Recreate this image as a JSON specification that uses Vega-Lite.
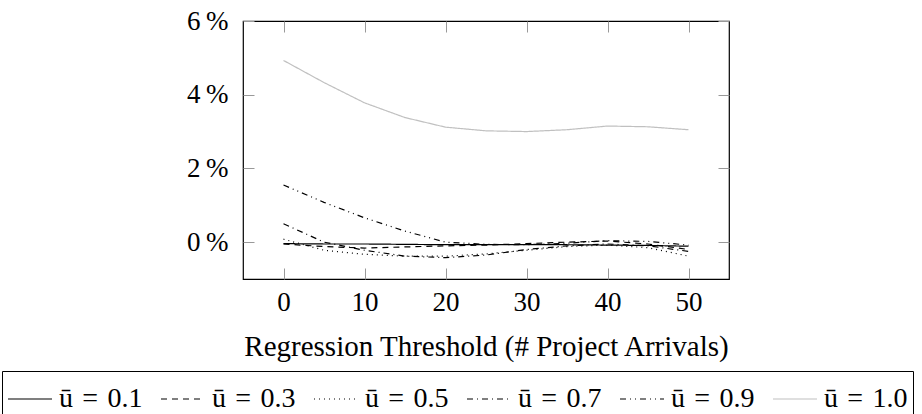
{
  "$schema": "https://vega.github.io/schema/vega-lite/v6.json",
  "width": 486,
  "height": 258,
  "autosize": {"type": "none"},
  "padding": {"left": 243, "top": 21, "right": 193, "bottom": 135},
  "background": "white",
  "config": {
    "view": {"stroke": "black", "strokeWidth": 1.2},
    "font": "Liberation Serif, serif",
    "axis": {
      "labelFont": "Liberation Serif, serif",
      "labelFontSize": 27,
      "labelColor": "black",
      "titleFont": "Liberation Serif, serif",
      "titleFontSize": 29,
      "titleFontWeight": "normal",
      "titleColor": "black",
      "grid": false,
      "domain": false,
      "tickColor": "#999999",
      "tickSize": -11,
      "tickWidth": 1
    },
    "legend": {
      "labelFont": "Liberation Serif, serif",
      "labelFontSize": 28,
      "labelColor": "black"
    }
  },
  "data": {
    "values": [
      {"u": "ū = 0.1", "x": 0, "y": -0.04}, {"u": "ū = 0.1", "x": 5, "y": -0.05}, {"u": "ū = 0.1", "x": 10, "y": -0.05}, {"u": "ū = 0.1", "x": 15, "y": -0.06}, {"u": "ū = 0.1", "x": 20, "y": -0.07}, {"u": "ū = 0.1", "x": 25, "y": -0.07}, {"u": "ū = 0.1", "x": 30, "y": -0.07}, {"u": "ū = 0.1", "x": 35, "y": -0.07}, {"u": "ū = 0.1", "x": 40, "y": -0.08}, {"u": "ū = 0.1", "x": 45, "y": -0.09}, {"u": "ū = 0.1", "x": 50, "y": -0.11},
      {"u": "ū = 0.3", "x": 0, "y": -0.05}, {"u": "ū = 0.3", "x": 5, "y": -0.12}, {"u": "ū = 0.3", "x": 10, "y": -0.16}, {"u": "ū = 0.3", "x": 15, "y": -0.13}, {"u": "ū = 0.3", "x": 20, "y": -0.1}, {"u": "ū = 0.3", "x": 25, "y": -0.08}, {"u": "ū = 0.3", "x": 30, "y": -0.04}, {"u": "ū = 0.3", "x": 35, "y": 0.0}, {"u": "ū = 0.3", "x": 40, "y": 0.03}, {"u": "ū = 0.3", "x": 45, "y": -0.05}, {"u": "ū = 0.3", "x": 50, "y": -0.2},
      {"u": "ū = 0.5", "x": 0, "y": 0.08}, {"u": "ū = 0.5", "x": 5, "y": -0.22}, {"u": "ū = 0.5", "x": 10, "y": -0.33}, {"u": "ū = 0.5", "x": 15, "y": -0.38}, {"u": "ū = 0.5", "x": 20, "y": -0.38}, {"u": "ū = 0.5", "x": 25, "y": -0.32}, {"u": "ū = 0.5", "x": 30, "y": -0.22}, {"u": "ū = 0.5", "x": 35, "y": -0.12}, {"u": "ū = 0.5", "x": 40, "y": -0.08}, {"u": "ū = 0.5", "x": 45, "y": -0.15}, {"u": "ū = 0.5", "x": 50, "y": -0.38},
      {"u": "ū = 0.7", "x": 0, "y": 0.5}, {"u": "ū = 0.7", "x": 5, "y": 0.0}, {"u": "ū = 0.7", "x": 10, "y": -0.22}, {"u": "ū = 0.7", "x": 15, "y": -0.38}, {"u": "ū = 0.7", "x": 20, "y": -0.42}, {"u": "ū = 0.7", "x": 25, "y": -0.35}, {"u": "ū = 0.7", "x": 30, "y": -0.2}, {"u": "ū = 0.7", "x": 35, "y": -0.1}, {"u": "ū = 0.7", "x": 40, "y": -0.05}, {"u": "ū = 0.7", "x": 45, "y": -0.1}, {"u": "ū = 0.7", "x": 50, "y": -0.25},
      {"u": "ū = 0.9", "x": 0, "y": 1.55}, {"u": "ū = 0.9", "x": 5, "y": 1.08}, {"u": "ū = 0.9", "x": 10, "y": 0.66}, {"u": "ū = 0.9", "x": 15, "y": 0.3}, {"u": "ū = 0.9", "x": 20, "y": 0.0}, {"u": "ū = 0.9", "x": 25, "y": -0.06}, {"u": "ū = 0.9", "x": 30, "y": -0.07}, {"u": "ū = 0.9", "x": 35, "y": -0.03}, {"u": "ū = 0.9", "x": 40, "y": 0.04}, {"u": "ū = 0.9", "x": 45, "y": 0.02}, {"u": "ū = 0.9", "x": 50, "y": -0.08},
      {"u": "ū = 1.0", "x": 0, "y": 4.93}, {"u": "ū = 1.0", "x": 5, "y": 4.33}, {"u": "ū = 1.0", "x": 10, "y": 3.78}, {"u": "ū = 1.0", "x": 15, "y": 3.38}, {"u": "ū = 1.0", "x": 20, "y": 3.12}, {"u": "ū = 1.0", "x": 25, "y": 3.02}, {"u": "ū = 1.0", "x": 30, "y": 3.0}, {"u": "ū = 1.0", "x": 35, "y": 3.05}, {"u": "ū = 1.0", "x": 40, "y": 3.15}, {"u": "ū = 1.0", "x": 45, "y": 3.13}, {"u": "ū = 1.0", "x": 50, "y": 3.05}
    ]
  },
  "layer": [
    {
      "mark": {"type": "line", "clip": true},
      "encoding": {
        "x": {
          "field": "x", "type": "quantitative",
          "scale": {"domain": [-5, 55], "nice": false, "zero": false},
          "axis": {"values": [0, 10, 20, 30, 40, 50], "labelPadding": 21, "title": "Regression Threshold (# Project Arrivals)", "titlePadding": 17}
        },
        "y": {
          "field": "y", "type": "quantitative",
          "scale": {"domain": [-1, 6], "nice": false, "zero": false},
          "axis": {"values": [0, 2, 4, 6], "labelExpr": "datum.value + '\u2009%'", "labelPadding": 26, "title": null}
        },
        "color": {
          "field": "u", "type": "nominal",
          "scale": {"domain": ["ū = 0.1", "ū = 0.3", "ū = 0.5", "ū = 0.7", "ū = 0.9", "ū = 1.0"], "range": ["black", "black", "black", "black", "black", "#c0c0c0"]},
          "legend": {
            "title": null,
            "orient": "none",
            "legendX": -241,
            "legendY": 350,
            "direction": "horizontal",
            "columns": 6,
            "columnPadding": 15,
            "symbolType": "stroke",
            "symbolSize": 1936,
            "labelOffset": 6,
            "labelExpr": "replace(datum.label, / /g, '\u2004')",
            "strokeColor": "black",
            "fillColor": "white",
            "padding": 5
          }
        },
        "strokeDash": {
          "field": "u", "type": "nominal",
          "scale": {"domain": ["ū = 0.1", "ū = 0.3", "ū = 0.5", "ū = 0.7", "ū = 0.9", "ū = 1.0"], "range": [[1, 0], [6, 5], [1, 4], [6, 4, 1, 4], [6, 4, 1, 4, 1, 4], [1, 0]]}
        },
        "strokeWidth": {
          "field": "u", "type": "ordinal",
          "scale": {"domain": ["ū = 0.1", "ū = 0.3", "ū = 0.5", "ū = 0.7", "ū = 0.9", "ū = 1.0"], "range": [1.2, 1.2, 1.2, 1.2, 1.2, 2]}
        }
      }
    },
    {
      "mark": {"type": "line", "opacity": 0},
      "encoding": {
        "x": {"field": "x", "type": "quantitative", "axis": {"orient": "top", "values": [0, 10, 20, 30, 40, 50], "labels": false, "title": null}},
        "y": {"field": "y", "type": "quantitative", "axis": {"orient": "right", "values": [0, 2, 4, 6], "labels": false, "title": null}},
        "detail": {"field": "u"}
      }
    }
  ],
  "resolve": {"axis": {"x": "independent", "y": "independent"}}
}
